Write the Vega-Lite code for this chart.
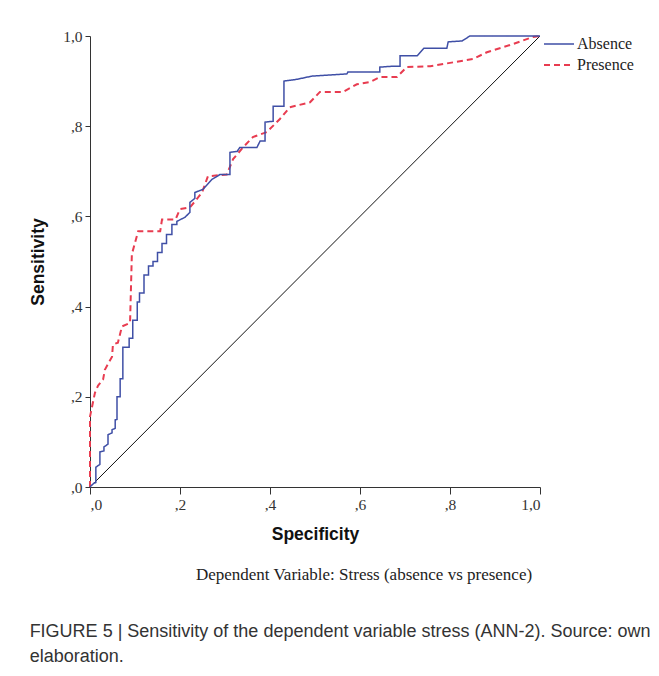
{
  "$schema": "https://vega.github.io/schema/vega-lite/v6.json",
  "padding": {"left": 29, "top": 29, "right": 5, "bottom": 5},
  "background": "white",
  "config": {"view": {"stroke": null}},
  "title": {
    "text": ["FIGURE 5 | Sensitivity of the dependent variable stress (ANN-2). Source: own", "elaboration."],
    "orient": "bottom",
    "anchor": "start",
    "frame": "bounds",
    "offset": 40,
    "font": "Liberation Sans",
    "fontSize": 18,
    "fontWeight": "normal",
    "color": "#333",
    "lineHeight": 25
  },
  "vconcat": [
    {
      "width": 450,
      "height": 451,
      "title": {
        "text": "Dependent Variable: Stress (absence vs presence)",
        "orient": "bottom",
        "anchor": "middle",
        "frame": "group",
        "dx": 49,
        "offset": 24,
        "font": "Liberation Serif",
        "fontSize": 17,
        "fontWeight": "normal",
        "color": "#222"
      },
      "layer": [
        {
          "data": {"values": [{"x": 0, "y": 0}, {"x": 1, "y": 1}]},
          "mark": {"type": "line", "color": "#111", "strokeWidth": 1},
          "encoding": {
            "x": {
              "field": "x", "type": "quantitative",
              "scale": {"domain": [0, 1], "nice": false},
              "axis": {
                "title": "Specificity",
                "titleFont": "Liberation Sans", "titleFontSize": 17.5, "titleFontWeight": "bold", "titleColor": "#111",
                "titlePadding": 13,
                "values": [0, 0.2, 0.4, 0.6, 0.8, 1],
                "labelExpr": "datum.value >= 1 ? '1,0' : ',' + format(datum.value * 10, '.0f')",
                "labelFont": "Liberation Serif", "labelFontSize": 15.5, "labelColor": "#333", "labelPadding": 3,
                "tickSize": 7, "tickColor": "#333", "domainColor": "#333", "grid": false
              }
            },
            "y": {
              "field": "y", "type": "quantitative",
              "scale": {"domain": [0, 1], "nice": false},
              "axis": {
                "title": "Sensitivity",
                "titleFont": "Liberation Sans", "titleFontSize": 17.5, "titleFontWeight": "bold", "titleColor": "#111",
                "titlePadding": 15,
                "values": [0, 0.2, 0.4, 0.6, 0.8, 1],
                "labelExpr": "datum.value >= 1 ? '1,0' : ',' + format(datum.value * 10, '.0f')",
                "labelFont": "Liberation Serif", "labelFontSize": 15.5, "labelColor": "#333", "labelPadding": 3,
                "tickSize": 5, "tickColor": "#333", "domainColor": "#333", "grid": false
              }
            }
          }
        },
        {
          "data": {"values": [
            {"series": "Presence", "x": 0, "y": 0},
            {"series": "Presence", "x": 0, "y": 0.156},
            {"series": "Presence", "x": 0.011, "y": 0.209},
            {"series": "Presence", "x": 0.018, "y": 0.225},
            {"series": "Presence", "x": 0.029, "y": 0.238},
            {"series": "Presence", "x": 0.033, "y": 0.26},
            {"series": "Presence", "x": 0.049, "y": 0.289},
            {"series": "Presence", "x": 0.051, "y": 0.316},
            {"series": "Presence", "x": 0.062, "y": 0.32},
            {"series": "Presence", "x": 0.071, "y": 0.356},
            {"series": "Presence", "x": 0.089, "y": 0.364},
            {"series": "Presence", "x": 0.093, "y": 0.516},
            {"series": "Presence", "x": 0.107, "y": 0.567},
            {"series": "Presence", "x": 0.156, "y": 0.567},
            {"series": "Presence", "x": 0.16, "y": 0.593},
            {"series": "Presence", "x": 0.19, "y": 0.593},
            {"series": "Presence", "x": 0.2, "y": 0.616},
            {"series": "Presence", "x": 0.222, "y": 0.62},
            {"series": "Presence", "x": 0.233, "y": 0.633},
            {"series": "Presence", "x": 0.249, "y": 0.653},
            {"series": "Presence", "x": 0.262, "y": 0.689},
            {"series": "Presence", "x": 0.304, "y": 0.693},
            {"series": "Presence", "x": 0.318, "y": 0.727},
            {"series": "Presence", "x": 0.34, "y": 0.753},
            {"series": "Presence", "x": 0.362, "y": 0.776},
            {"series": "Presence", "x": 0.393, "y": 0.787},
            {"series": "Presence", "x": 0.422, "y": 0.816},
            {"series": "Presence", "x": 0.444, "y": 0.842},
            {"series": "Presence", "x": 0.489, "y": 0.853},
            {"series": "Presence", "x": 0.511, "y": 0.876},
            {"series": "Presence", "x": 0.562, "y": 0.876},
            {"series": "Presence", "x": 0.593, "y": 0.893},
            {"series": "Presence", "x": 0.622, "y": 0.898},
            {"series": "Presence", "x": 0.644, "y": 0.909},
            {"series": "Presence", "x": 0.682, "y": 0.909},
            {"series": "Presence", "x": 0.704, "y": 0.931},
            {"series": "Presence", "x": 0.756, "y": 0.933},
            {"series": "Presence", "x": 0.851, "y": 0.949},
            {"series": "Presence", "x": 0.882, "y": 0.964},
            {"series": "Presence", "x": 0.94, "y": 0.982},
            {"series": "Presence", "x": 0.984, "y": 0.998},
            {"series": "Presence", "x": 1, "y": 1},
            {"series": "Absence", "x": 0, "y": 0},
            {"series": "Absence", "x": 0.008, "y": 0.008},
            {"series": "Absence", "x": 0.013, "y": 0.01},
            {"series": "Absence", "x": 0.013, "y": 0.044},
            {"series": "Absence", "x": 0.022, "y": 0.05},
            {"series": "Absence", "x": 0.022, "y": 0.078},
            {"series": "Absence", "x": 0.031, "y": 0.08},
            {"series": "Absence", "x": 0.031, "y": 0.089},
            {"series": "Absence", "x": 0.04, "y": 0.095},
            {"series": "Absence", "x": 0.04, "y": 0.116},
            {"series": "Absence", "x": 0.049, "y": 0.12},
            {"series": "Absence", "x": 0.049, "y": 0.127},
            {"series": "Absence", "x": 0.056, "y": 0.13},
            {"series": "Absence", "x": 0.056, "y": 0.149},
            {"series": "Absence", "x": 0.06, "y": 0.15},
            {"series": "Absence", "x": 0.06, "y": 0.2},
            {"series": "Absence", "x": 0.067, "y": 0.2},
            {"series": "Absence", "x": 0.067, "y": 0.24},
            {"series": "Absence", "x": 0.073, "y": 0.24},
            {"series": "Absence", "x": 0.073, "y": 0.31},
            {"series": "Absence", "x": 0.087, "y": 0.31},
            {"series": "Absence", "x": 0.087, "y": 0.33},
            {"series": "Absence", "x": 0.095, "y": 0.33},
            {"series": "Absence", "x": 0.095, "y": 0.37},
            {"series": "Absence", "x": 0.105, "y": 0.37},
            {"series": "Absence", "x": 0.105, "y": 0.41},
            {"series": "Absence", "x": 0.11, "y": 0.41},
            {"series": "Absence", "x": 0.11, "y": 0.43},
            {"series": "Absence", "x": 0.12, "y": 0.43},
            {"series": "Absence", "x": 0.12, "y": 0.47},
            {"series": "Absence", "x": 0.13, "y": 0.47},
            {"series": "Absence", "x": 0.13, "y": 0.49},
            {"series": "Absence", "x": 0.14, "y": 0.49},
            {"series": "Absence", "x": 0.14, "y": 0.5},
            {"series": "Absence", "x": 0.15, "y": 0.5},
            {"series": "Absence", "x": 0.15, "y": 0.52},
            {"series": "Absence", "x": 0.16, "y": 0.52},
            {"series": "Absence", "x": 0.16, "y": 0.54},
            {"series": "Absence", "x": 0.17, "y": 0.54},
            {"series": "Absence", "x": 0.17, "y": 0.56},
            {"series": "Absence", "x": 0.182, "y": 0.56},
            {"series": "Absence", "x": 0.182, "y": 0.582},
            {"series": "Absence", "x": 0.193, "y": 0.582},
            {"series": "Absence", "x": 0.193, "y": 0.589},
            {"series": "Absence", "x": 0.211, "y": 0.598},
            {"series": "Absence", "x": 0.222, "y": 0.609},
            {"series": "Absence", "x": 0.222, "y": 0.631},
            {"series": "Absence", "x": 0.233, "y": 0.64},
            {"series": "Absence", "x": 0.233, "y": 0.653},
            {"series": "Absence", "x": 0.251, "y": 0.66},
            {"series": "Absence", "x": 0.271, "y": 0.682},
            {"series": "Absence", "x": 0.289, "y": 0.693},
            {"series": "Absence", "x": 0.311, "y": 0.693},
            {"series": "Absence", "x": 0.311, "y": 0.742},
            {"series": "Absence", "x": 0.327, "y": 0.744},
            {"series": "Absence", "x": 0.333, "y": 0.753},
            {"series": "Absence", "x": 0.371, "y": 0.753},
            {"series": "Absence", "x": 0.378, "y": 0.767},
            {"series": "Absence", "x": 0.389, "y": 0.767},
            {"series": "Absence", "x": 0.389, "y": 0.809},
            {"series": "Absence", "x": 0.407, "y": 0.811},
            {"series": "Absence", "x": 0.407, "y": 0.844},
            {"series": "Absence", "x": 0.431, "y": 0.844},
            {"series": "Absence", "x": 0.431, "y": 0.9},
            {"series": "Absence", "x": 0.46, "y": 0.904},
            {"series": "Absence", "x": 0.493, "y": 0.911},
            {"series": "Absence", "x": 0.571, "y": 0.916},
            {"series": "Absence", "x": 0.573, "y": 0.92},
            {"series": "Absence", "x": 0.644, "y": 0.92},
            {"series": "Absence", "x": 0.644, "y": 0.931},
            {"series": "Absence", "x": 0.673, "y": 0.933},
            {"series": "Absence", "x": 0.689, "y": 0.933},
            {"series": "Absence", "x": 0.689, "y": 0.956},
            {"series": "Absence", "x": 0.727, "y": 0.956},
            {"series": "Absence", "x": 0.742, "y": 0.973},
            {"series": "Absence", "x": 0.793, "y": 0.973},
            {"series": "Absence", "x": 0.796, "y": 0.987},
            {"series": "Absence", "x": 0.827, "y": 0.989},
            {"series": "Absence", "x": 0.844, "y": 1},
            {"series": "Absence", "x": 1, "y": 1}
          ]},
          "mark": {"type": "line"},
          "encoding": {
            "x": {"field": "x", "type": "quantitative"},
            "y": {"field": "y", "type": "quantitative"},
            "order": {"value": null},
            "color": {
              "field": "series", "type": "nominal",
              "scale": {"domain": ["Absence", "Presence"], "range": ["#3f4fa6", "#e83c50"]},
              "legend": {
                "title": null,
                "orient": "none",
                "legendX": 458,
                "legendY": -3,
                "padding": 0,
                "symbolType": "M-1.5,0H1.5",
                "symbolSize": 400,
                "symbolStrokeWidth": 1.5,
                "labelOffset": 7,
                "rowPadding": 2,
                "labelFont": "Liberation Serif",
                "labelFontSize": 16,
                "labelColor": "#222"
              }
            },
            "strokeDash": {
              "field": "series", "type": "nominal",
              "scale": {"domain": ["Absence", "Presence"], "range": [[1, 0], [6, 4]]},
              "legend": null
            },
            "strokeWidth": {
              "field": "series", "type": "nominal",
              "scale": {"domain": ["Absence", "Presence"], "range": [1.5, 2]},
              "legend": null
            }
          }
        }
      ]
    }
  ]
}
